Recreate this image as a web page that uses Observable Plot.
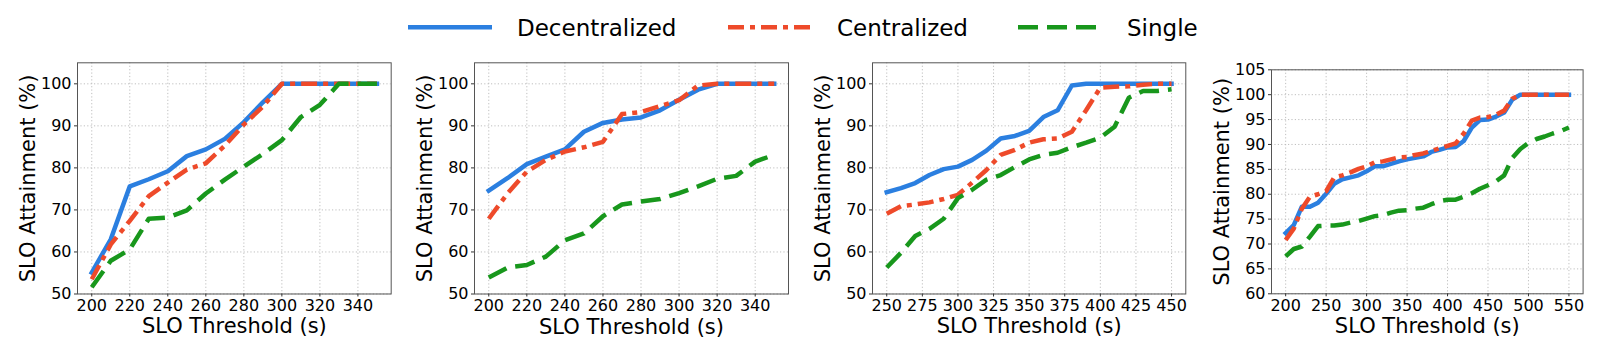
<!DOCTYPE html>
<html>
<head>
<meta charset="utf-8">
<script src="https://cdn.jsdelivr.net/npm/d3@7"></script>
<script src="https://cdn.jsdelivr.net/npm/@observablehq/plot@0.6"></script>
<style>
  html, body { margin: 0; padding: 0; background: #fff; }
  #root { position: relative; width: 1608px; height: 357px; background: #fff; overflow: hidden; font-family: "DejaVu Sans", sans-serif; }
  .panel { position: absolute; top: 50px; }
  .panel svg { overflow: visible; }
  g[aria-label="x-axis label"], g[aria-label="y-axis label"] { font-size: 21px; }
  #legend { position: absolute; left: 0; top: 0; }
</style>
</head>
<body>
<div id="root"></div>
<script>
// ---------- data ----------
const seriesNames = ["Decentralized", "Centralized", "Single"];
const seriesColors = ["#2b7fe0", "#ee4a2a", "#18971c"];

const x1 = [200, 210, 220, 230, 240, 250, 260, 270, 280, 290, 300, 310, 320, 330, 340, 350];
const dec1 = [55.1, 63.0, 75.6, 77.3, 79.2, 82.8, 84.4, 86.9, 90.9, 95.6, 100, 100, 100, 100, 100, 100];
const cen1 = [53.5, 61.8, 67.4, 73.3, 76.5, 79.6, 81.1, 85.3, 90.3, 94.6, 100, 100, 100, 100, 100, 100];
const sin1 = [51.6, 57.9, 60.6, 67.9, 68.2, 69.9, 73.9, 77.2, 80.3, 83.3, 86.6, 92.1, 95.0, 100, 100, 100];

const x2 = [200, 210, 220, 230, 240, 250, 260, 270, 280, 290, 300, 310, 320, 330, 340, 350];
const dec2 = [74.6, 77.6, 80.9, 82.7, 84.4, 88.6, 90.7, 91.5, 92.0, 93.7, 96.2, 98.6, 100, 100, 100, 100];
const cen2 = [67.9, 74.0, 79.1, 81.9, 83.9, 84.9, 86.2, 92.8, 93.3, 94.7, 96.1, 99.6, 100, 100, 100, 100];
const sin2 = [53.9, 56.3, 56.9, 58.9, 62.8, 64.4, 68.5, 71.3, 72.0, 72.6, 74.0, 75.6, 77.4, 78.1, 81.5, 83.1];

const x3 = [250, 260, 270, 280, 290, 300, 310, 320, 330, 340, 350, 360, 370, 380, 390, 400, 410, 420, 430, 440, 450];
const dec3 = [74.2, 75.2, 76.4, 78.3, 79.7, 80.3, 81.9, 84.1, 87.0, 87.6, 88.8, 92.1, 93.7, 99.6, 100, 100, 100, 100, 100, 100, 100];
const cen3 = [69.1, 70.9, 71.3, 71.8, 72.6, 73.6, 76.5, 79.5, 83.1, 84.3, 86.0, 86.8, 87.0, 88.6, 93.7, 99.1, 99.3, 99.4, 99.8, 100, 100];
const sin3 = [56.3, 59.8, 63.8, 65.5, 67.9, 72.8, 74.8, 77.2, 78.3, 80.2, 82.0, 83.1, 83.6, 84.9, 86.0, 87.2, 89.8, 96.7, 98.3, 98.3, 98.7];

const x4 = [200, 210, 220, 230, 240, 250, 260, 270, 280, 290, 300, 310, 320, 330, 340, 350, 360, 370, 380, 390, 400, 410, 420, 430, 440, 450, 460, 470, 480, 490, 500, 510, 520, 530, 540, 550];
const dec4 = [72.2, 73.8, 77.5, 77.5, 78.3, 80.1, 82.1, 83.0, 83.4, 83.8, 84.6, 85.6, 85.6, 86.1, 86.6, 87.0, 87.3, 87.6, 88.5, 88.9, 89.4, 89.5, 90.7, 93.4, 94.9, 95.0, 95.6, 96.4, 99.0, 100, 100, 100, 100, 100, 100, 100];
const cen4 = [70.8, 73.1, 77.1, 79.5, 80.0, 80.6, 83.4, 83.8, 84.4, 85.1, 85.6, 86.4, 86.6, 87.0, 87.4, 87.5, 87.9, 88.2, 88.7, 89.2, 89.7, 90.2, 92.2, 94.8, 95.4, 95.5, 96.0, 96.8, 99.2, 100, 100, 100, 100, 100, 100, 100];
const sin4 = [67.5, 69.0, 69.5, 71.5, 73.6, 73.7, 73.7, 73.9, 74.3, 74.6, 75.1, 75.6, 75.8, 76.3, 76.7, 76.8, 77.1, 77.3, 78.0, 78.6, 78.9, 78.9, 79.5, 80.2, 81.1, 81.8, 82.6, 83.8, 87.3, 89.1, 90.3, 91.1, 91.6, 92.2, 92.7, 93.4];

// tick labels
const xTicks12 = [200, 220, 240, 260, 280, 300, 320, 340];
const xTicks3 = [250, 275, 300, 325, 350, 375, 400, 425, 450];
const xTicks4 = [200, 250, 300, 350, 400, 450, 500, 550];
const yTicks123 = [50, 60, 70, 80, 90, 100];
const yTicks4 = [60, 65, 70, 75, 80, 85, 90, 95, 100, 105];

// ---------- layout ----------
const panels = [
  {x: x1, ys: [dec1, cen1, sin1], xd: [192.5, 357.5], yd: [50, 105], xt: xTicks12, yt: yTicks123, fl: 77, fr: 390.7, ft: 62.3, fb: 293.5},
  {x: x2, ys: [dec2, cen2, sin2], xd: [192.5, 357.5], yd: [50, 105], xt: xTicks12, yt: yTicks123, fl: 474.3, fr: 788.3, ft: 62.3, fb: 293.5},
  {x: x3, ys: [dec3, cen3, sin3], xd: [240, 460], yd: [50, 105], xt: xTicks3, yt: yTicks123, fl: 871.7, fr: 1185, ft: 62.3, fb: 293.5},
  {x: x4, ys: [dec4, cen4, sin4], xd: [182.5, 567.5], yd: [60, 105], xt: xTicks4, yt: yTicks4, fl: 1270.7, fr: 1582.3, ft: 69.3, fb: 293.3}
];

const lineStyles = [
  {strokeDasharray: null, strokeLinecap: "square"},
  {strokeDasharray: "16,6,5,6", strokeLinecap: "butt"},
  {strokeDasharray: "20,9", strokeLinecap: "butt"}
];
const LW = 4.5;
const root = document.getElementById("root");

panels.forEach((p) => {
  const ML = 77, MR = 15, TOP = 50, H = 357 - TOP;
  const W = (p.fr - p.fl) + ML + MR;
  const lineMarks = p.ys.map((vals, si) => {
    const rows = p.x.map((xv, i) => ({x: xv, y: vals[i], s: seriesNames[si]}));
    const st = lineStyles[si];
    const opts = {x: "x", y: "y", stroke: seriesColors[si], strokeWidth: LW, strokeLinejoin: "round", strokeLinecap: st.strokeLinecap};
    if (st.strokeDasharray) opts.strokeDasharray = st.strokeDasharray;
    return Plot.line(rows, opts);
  });
  const chart = Plot.plot({
    width: W,
    height: H,
    marginLeft: ML,
    marginRight: MR,
    marginTop: p.ft - TOP,
    marginBottom: 357 - p.fb,
    style: {fontFamily: "DejaVu Sans", fontSize: "16px", color: "#000", background: "transparent"},
    x: {domain: p.xd},
    y: {domain: p.yd},
    marks: [
      Plot.gridX(p.xt, {stroke: "#b8b8b8", strokeOpacity: 1, strokeWidth: 0.9, strokeDasharray: "1.2,2.2"}),
      Plot.gridY(p.yt, {stroke: "#b8b8b8", strokeOpacity: 1, strokeWidth: 0.9, strokeDasharray: "1.2,2.2"}),
      ...lineMarks,
      Plot.frame({stroke: "#555", strokeWidth: 1}),
      Plot.axisX(p.xt, {tickSize: 3, tickPadding: 3, label: "SLO Threshold (s)", labelAnchor: "center", labelOffset: 39.5, labelArrow: "none", stroke: "#333"}),
      Plot.axisY(p.yt, {tickSize: 3, tickPadding: 3, label: "SLO Attainment (%)", labelAnchor: "center", labelOffset: 57, labelArrow: "none", stroke: "#333"})
    ]
  });
  const wrap = document.createElement("div");
  wrap.className = "panel";
  wrap.style.left = (p.fl - ML) + "px";
  wrap.appendChild(chart);
  root.appendChild(wrap);
});

// ---------- legend ----------
const legendItems = [
  {name: seriesNames[0], color: seriesColors[0], dash: null, x: 408},
  {name: seriesNames[1], color: seriesColors[1], dash: "16,6,5,6", x: 728},
  {name: seriesNames[2], color: seriesColors[2], dash: "20,9", x: 1018}
];
const lsvg = d3.select(root).append("svg").attr("id", "legend").attr("width", 1608).attr("height", 50);
legendItems.forEach((it) => {
  const ln = lsvg.append("line")
    .attr("x1", it.x).attr("x2", it.x + 84).attr("y1", 27.3).attr("y2", 27.3)
    .attr("stroke", it.color).attr("stroke-width", LW);
  if (it.dash) ln.attr("stroke-dasharray", it.dash);
  lsvg.append("text").attr("x", it.x + 109).attr("y", 36)
    .attr("font-family", "DejaVu Sans").attr("font-size", 23).attr("fill", "#000")
    .text(it.name);
});
</script>
</body>
</html>
